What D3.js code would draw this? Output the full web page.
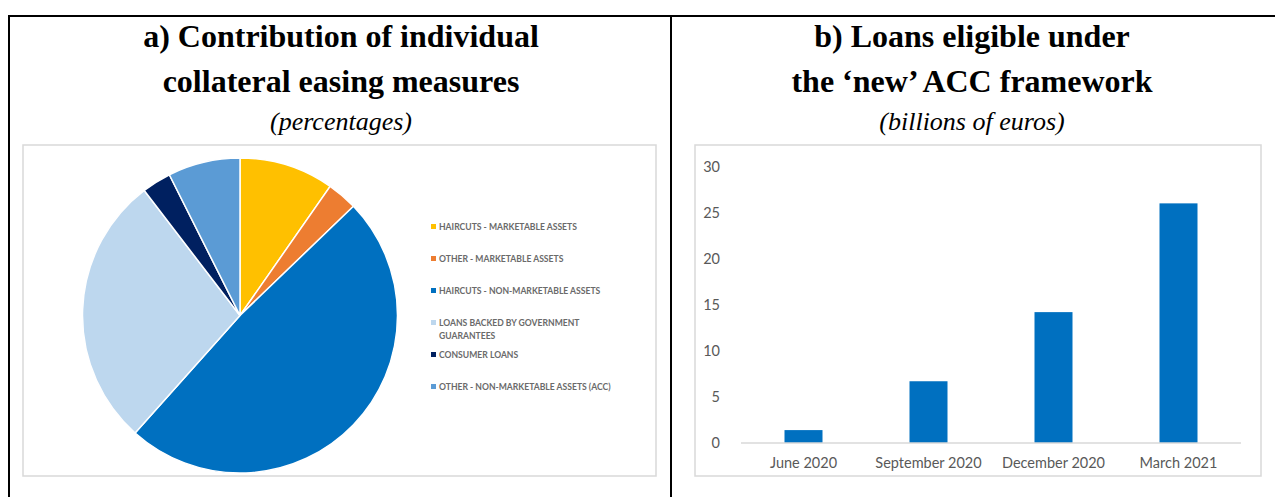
<!DOCTYPE html>
<html>
<head>
<meta charset="utf-8">
<script src="https://cdn.jsdelivr.net/npm/d3@7"></script>
<style>
  html, body { margin: 0; padding: 0; background: #fff; }
  svg { display: block; }
</style>
</head>
<body>
<svg id="chart" width="1275" height="497"></svg>
<script>
// Panel a) contribution of each collateral easing measure (percentages)
const measures = [
  "HAIRCUTS - MARKETABLE ASSETS",
  "OTHER - MARKETABLE ASSETS",
  "HAIRCUTS - NON-MARKETABLE ASSETS",
  "LOANS BACKED BY GOVERNMENT GUARANTEES",
  "CONSUMER LOANS",
  "OTHER - NON-MARKETABLE ASSETS (ACC)"
];
const shares = [9.7, 3.1, 48.8, 28.0, 3.0, 7.4];
const sliceColors = ["#FFC000", "#ED7D31", "#0070C0", "#BDD7EE", "#002060", "#5B9BD5"];

// Panel b) loans eligible under the 'new' ACC framework (billions of euros)
const quarters = ["June 2020", "September 2020", "December 2020", "March 2021"];
const loans = [1.4, 6.7, 14.2, 26.0];
const yTicks = [0, 5, 10, 15, 20, 25, 30];

const svg = d3.select("#chart");

// Table rules framing the two panels
const rules = svg.append("g").attr("stroke", "#000").attr("stroke-width", 2);
rules.append("line").attr("x1", 8).attr("x2", 1275).attr("y1", 16).attr("y2", 16);
rules.append("line").attr("x1", 9).attr("x2", 9).attr("y1", 15).attr("y2", 497);
rules.append("line").attr("x1", 671).attr("x2", 671).attr("y1", 15).attr("y2", 497);

// Headings
function heading(cx, lines, sub) {
  const g = svg.append("g").attr("font-family", "'Liberation Serif', 'Times New Roman', serif")
    .attr("fill", "#000").attr("text-anchor", "middle");
  lines.forEach((t, i) => {
    g.append("text").attr("x", cx).attr("y", 47 + i * 45)
      .attr("font-size", 32).attr("font-weight", "bold").text(t);
  });
  g.append("text").attr("x", cx).attr("y", 130)
    .attr("font-size", 26).attr("font-style", "italic").text(sub);
}
heading(341, ["a) Contribution of individual", "collateral easing measures"], "(percentages)");
heading(972, ["b) Loans eligible under", "the \u2018new\u2019 ACC framework"], "(billions of euros)");

// Chart frames
const frameStyle = sel => sel.attr("fill", "#fff").attr("stroke", "#d9d9d9").attr("stroke-width", 1.5);
svg.append("rect").attr("x", 23).attr("y", 145).attr("width", 633).attr("height", 331).call(frameStyle);
svg.append("rect").attr("x", 695).attr("y", 145).attr("width", 566).attr("height", 331).call(frameStyle);

// ---- Pie ----
const pieData = d3.pie().sort(null).value(d => d)(shares);
const arc = d3.arc().innerRadius(0).outerRadius(157.5);
const pieG = svg.append("g").attr("transform", "translate(240,315.5)");
pieG.selectAll("path").data(pieData).join("path")
  .attr("d", arc)
  .attr("fill", (d, i) => sliceColors[i])
  .attr("stroke", "#fff").attr("stroke-width", 1.5);

// Legend
const legend = svg.append("g")
  .attr("font-family", "Lato, 'Open Sans', sans-serif")
  .attr("font-size", 8.6).attr("font-weight", "bold").attr("fill", "#6a6a6a");
const legendRows = [[measures[0]], [measures[1]], [measures[2]],
  ["LOANS BACKED BY GOVERNMENT", "GUARANTEES"], [measures[4]], [measures[5]]];
legendRows.forEach((rows, i) => {
  const y = 227 + i * 32;
  legend.append("rect").attr("x", 431).attr("y", y - 3).attr("width", 5).attr("height", 5)
    .attr("fill", sliceColors[i]);
  rows.forEach((t, j) => {
    legend.append("text").attr("x", 439).attr("y", y + 3 + j * 13).text(t);
  });
});

// ---- Bar chart ----
const x = d3.scaleBand().domain(quarters).range([741, 1241]).paddingInner(0.696).paddingOuter(0.348);
const y = d3.scaleLinear().domain([0, 30]).range([443, 166.5]);

const barG = svg.append("g");
barG.selectAll("rect").data(loans).join("rect")
  .attr("x", (d, i) => x(quarters[i]))
  .attr("width", x.bandwidth())
  .attr("y", d => y(d))
  .attr("height", d => y(0) - y(d))
  .attr("fill", "#0070C0");

const yAxis = svg.append("g").attr("transform", "translate(720,0)")
  .call(d3.axisLeft(y).tickValues(yTicks).tickSize(0).tickPadding(0));
yAxis.select(".domain").remove();
yAxis.selectAll("text").attr("font-family", "Lato, 'Open Sans', sans-serif")
  .attr("font-size", 14.5).attr("fill", "#595959");

const xAxis = svg.append("g").attr("transform", "translate(0,443)")
  .call(d3.axisBottom(x).tickSize(0).tickPadding(15));
xAxis.select(".domain").attr("stroke", "#d9d9d9").attr("stroke-width", 1.5)
  .attr("d", "M741,0H1241");
xAxis.selectAll("text").attr("font-family", "Lato, 'Open Sans', sans-serif")
  .attr("font-size", 14.5).attr("fill", "#595959");
</script>
</body>
</html>
